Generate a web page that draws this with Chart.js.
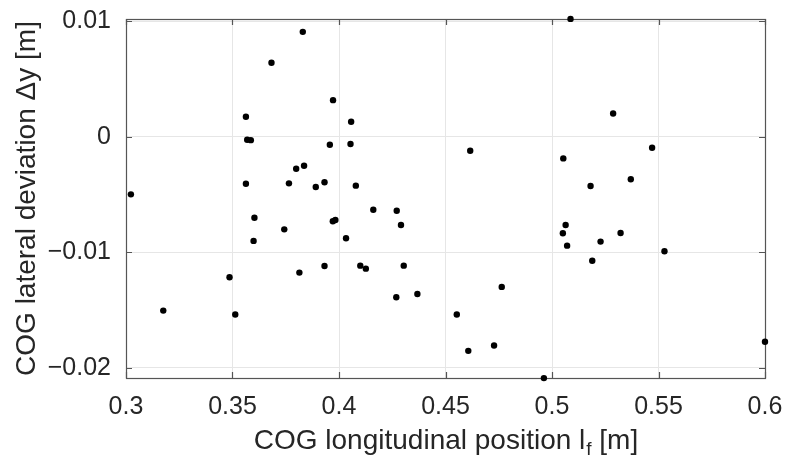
<!DOCTYPE html>
<html>
<head>
<meta charset="utf-8">
<script src="https://cdn.jsdelivr.net/npm/chart.js@4/dist/chart.umd.min.js"></script>
<style>
  html, body { margin: 0; padding: 0; background: #ffffff; }
  #wrap { width: 787px; height: 464px; }
</style>
</head>
<body>
<div id="wrap"><canvas id="c" width="787" height="464"></canvas></div>
<script>
// COG longitudinal position l_f [m]
const cogLongitudinal = [
  0.3023, 0.3830, 0.3683, 0.3972, 0.3563, 0.3569, 0.3586, 0.3957, 0.3836, 0.3799,
  0.3563, 0.3765, 0.3891, 0.3932, 0.5087, 0.4057, 0.4054, 0.4079, 0.4616, 0.5053,
  0.5287, 0.5470, 0.5181, 0.5370, 0.3603, 0.3743, 0.3599, 0.3971, 0.3983, 0.3486,
  0.3814, 0.3932, 0.3175, 0.3513, 0.4161, 0.4271, 0.4291, 0.4033, 0.4100, 0.4126,
  0.4304, 0.4269, 0.4368, 0.4764, 0.4553, 0.4607, 0.4728, 0.4962, 0.5064, 0.5051,
  0.5071, 0.5228, 0.5322, 0.5189, 0.5528, 0.6000
];
// COG lateral deviation Δy [m]
const cogLateral = [
  -0.00498, 0.00908, 0.00640, 0.00317, 0.00173, -0.00026, -0.00029, -0.00069, -0.00251, -0.00277,
  -0.00406, -0.00403, -0.00435, -0.00394, 0.01020, 0.00130, -0.00063, -0.00423, -0.00121, -0.00187,
  0.00202, -0.00095, -0.00426, -0.00368, -0.00700, -0.00801, -0.00901, -0.00731, -0.00720, -0.01215,
  -0.01175, -0.01118, -0.01504, -0.01538, -0.00631, -0.00640, -0.00763, -0.00878, -0.01115, -0.01141,
  -0.01115, -0.01388, -0.01360, -0.01299, -0.01538, -0.01852, -0.01806, -0.02088, -0.00763, -0.00835,
  -0.00942, -0.00907, -0.00832, -0.01072, -0.00991, -0.01774
];
const xTickValues = [0.3, 0.35, 0.4, 0.45, 0.5, 0.55, 0.6];
const xTickLabels = ["0.3", "0.35", "0.4", "0.45", "0.5", "0.55", "0.6"];
const yTickValues = [-0.02, -0.01, 0, 0.01];
const yTickLabels = ["\u22120.02", "\u22120.01", "0", "0.01"];
const xAxisLabel = ["COG longitudinal position l", "f", " [m]"];
const yAxisLabel = "COG lateral deviation \u0394y [m]";

const FONT = '"Liberation Sans", Arial, Helvetica, sans-serif';
const TEXT = '#262626';
const AXIS = '#555555';

const points = cogLongitudinal.map((x, i) => ({ x: x, y: cogLateral[i] }));

const boxPlugin = {
  id: 'matlabBox',
  beforeDatasetsDraw(chart) {
    const ctx = chart.ctx, a = chart.chartArea;
    const xs = chart.scales.x, ys = chart.scales.y;
    ctx.save();
    ctx.strokeStyle = AXIS;
    ctx.lineWidth = 1.2;
    ctx.strokeRect(Math.round(a.left) + 0.5, Math.round(a.top) + 0.5,
                   Math.round(a.right - a.left), Math.round(a.bottom - a.top));
    const tl = 6;
    ctx.beginPath();
    xTickValues.forEach(v => {
      const px = Math.round(xs.getPixelForValue(v)) + 0.5;
      ctx.moveTo(px, a.bottom); ctx.lineTo(px, a.bottom - tl);
      ctx.moveTo(px, a.top); ctx.lineTo(px, a.top + tl);
    });
    yTickValues.forEach(v => {
      const py = Math.round(ys.getPixelForValue(v)) + 0.5;
      ctx.moveTo(a.left, py); ctx.lineTo(a.left + tl, py);
      ctx.moveTo(a.right, py); ctx.lineTo(a.right - tl, py);
    });
    ctx.stroke();
    ctx.restore();
  },
  afterDraw(chart) {
    const ctx = chart.ctx, a = chart.chartArea;
    ctx.save();
    ctx.fillStyle = TEXT;
    ctx.textAlign = 'left';
    ctx.textBaseline = 'alphabetic';
    const mainFont = '28px ' + FONT, subFont = '19px ' + FONT;
    ctx.font = mainFont;
    const w1 = ctx.measureText(xAxisLabel[0]).width;
    const w3 = ctx.measureText(xAxisLabel[2]).width;
    ctx.font = subFont;
    const w2 = ctx.measureText(xAxisLabel[1]).width;
    const total = w1 + w2 + w3;
    const x0 = (a.left + a.right) / 2 - total / 2;
    const base = 449;
    ctx.font = mainFont;
    ctx.fillText(xAxisLabel[0], x0, base);
    ctx.font = subFont;
    ctx.fillText(xAxisLabel[1], x0 + w1 + 1, base + 6);
    ctx.font = mainFont;
    ctx.fillText(xAxisLabel[2], x0 + w1 + w2 + 1, base);
    ctx.restore();
  }
};

new Chart(document.getElementById('c'), {
  type: 'scatter',
  data: {
    datasets: [{
      data: points,
      backgroundColor: '#000000',
      borderWidth: 0,
      pointRadius: 3.2,
      pointHoverRadius: 3.2,
      clip: false
    }]
  },
  options: {
    responsive: false,
    animation: false,
    events: [],
    layout: { padding: { top: 19, right: 22, left: 0, bottom: 0 } },
    plugins: { legend: { display: false }, tooltip: { enabled: false } },
    scales: {
      x: {
        type: 'linear',
        min: 0.3,
        max: 0.6,
        afterBuildTicks: s => { s.ticks = xTickValues.map(v => ({ value: v })); },
        afterFit: s => { s.height = 86; s.paddingLeft = 0; s.paddingRight = 0; },
        ticks: {
          autoSkip: false,
          maxRotation: 0,
          padding: 14,
          color: TEXT,
          font: { family: FONT, size: 25 },
          callback: (v, i) => xTickLabels[i]
        },
        grid: { color: '#e6e6e6', lineWidth: 1, drawTicks: false },
        border: { display: false }
      },
      y: {
        type: 'linear',
        min: -0.02087,
        max: 0.01019,
        afterBuildTicks: s => { s.ticks = yTickValues.map(v => ({ value: v })); },
        afterFit: s => { s.width = 126; s.paddingTop = 0; s.paddingBottom = 0; },
        ticks: {
          autoSkip: false,
          padding: 15,
          color: TEXT,
          font: { family: FONT, size: 25 },
          callback: (v, i) => yTickLabels[i]
        },
        grid: { color: '#e6e6e6', lineWidth: 1, drawTicks: false },
        border: { display: false },
        title: {
          display: true,
          text: yAxisLabel,
          color: TEXT,
          font: { family: FONT, size: 28 },
          padding: { top: 10, bottom: 0 }
        }
      }
    }
  },
  plugins: [boxPlugin]
});
</script>
</body>
</html>
